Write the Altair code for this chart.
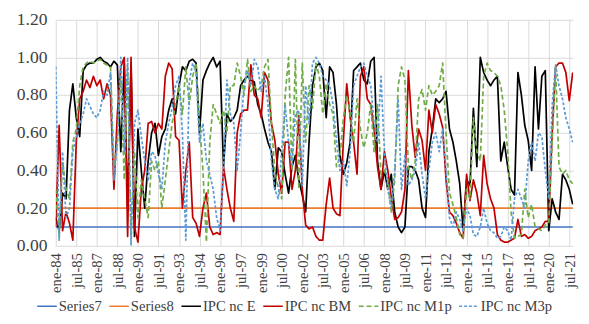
import altair as alt
import pandas as pd

# Quarterly readings (Jan, Apr, Jul, Oct) from 1984 to 2021
ipc_e = [
    0.15, 0.08, 0.28, 0.25,  0.72, 0.86, 0.68, 0.58,  0.93, 0.96, 0.97, 0.97,
    0.99, 1.00, 0.98, 0.97,  0.95, 0.98, 0.96, 0.50,  0.97, 0.20, 0.95, 0.05,
    0.62, 0.40, 0.20, 0.45,  0.60, 0.65, 0.48, 0.58,  0.62, 0.72, 0.78, 0.70,
    0.85, 0.95, 0.93, 0.98,  0.99, 0.97, 0.60, 0.88,  0.93, 0.97, 1.00, 0.95,
    0.98, 0.42, 0.70, 0.66,  0.68, 0.72, 0.85, 0.88,  0.90, 0.88, 0.87, 0.75,
    0.70, 0.62, 0.55, 0.50,  0.30, 0.52, 0.50, 0.38,  0.28, 0.42, 0.48, 0.35,
    0.27, 0.18, 0.55, 0.85,  0.95, 0.97, 0.93, 0.68,  0.95, 0.92, 0.75, 0.48,
    0.38, 0.44, 0.55, 0.93,  0.95, 0.97, 0.88, 0.86,  0.98, 1.00, 0.45, 0.30,
    0.40, 0.30, 0.38, 0.18,  0.10, 0.07, 0.10, 0.42,  0.42, 0.40, 0.35, 0.20,
    0.15, 0.50, 0.62, 0.78,  0.76, 0.78, 0.82, 0.62,  0.55, 0.45, 0.33, 0.08,
    0.35, 0.32, 0.73, 0.42,  1.00, 0.92, 0.88, 0.85,  0.88, 0.90, 0.45, 0.55,
    0.42, 0.30, 0.27, 0.92,  0.80, 0.64, 0.56, 0.40,  0.95, 0.62, 0.90, 0.93,
    0.08, 0.25, 0.18, 0.14,  0.38, 0.35, 0.30, 0.22,
]
ipc_bm = [
    0.10, 0.64, 0.08, 0.18,  0.12, 0.03, 0.55, 0.78,  0.82, 0.88, 0.84, 0.90,
    0.85, 0.88, 0.78, 0.86,  0.80, 0.30, 0.70, 0.95,  1.00, 0.05, 1.00, 0.10,
    0.02, 0.30, 0.40, 0.65,  0.66, 0.60, 0.65, 0.62,  0.90, 0.97, 0.94, 0.58,
    0.56, 0.20, 0.40, 0.55,  0.15, 0.12, 0.05, 0.20,  0.28, 0.10, 0.06, 0.07,
    0.06, 0.42, 0.30, 0.20,  0.13, 0.60, 0.70, 0.72,  0.72, 0.96, 0.80, 0.78,
    0.68, 0.92, 0.88, 0.65,  0.56, 0.38, 0.28, 0.55,  0.55, 0.30, 0.40, 0.69,
    0.30, 0.11, 0.09, 0.10,  0.05, 0.03, 0.03, 0.22,  0.36, 0.20, 0.17, 0.16,
    0.56, 0.86, 0.68, 0.55,  0.38, 0.90, 0.95, 0.78,  0.75, 0.62, 0.42, 0.30,
    0.50, 0.40, 0.26, 0.14,  0.15, 0.18, 0.30, 0.93,  0.64, 0.47, 0.62, 0.56,
    0.40, 0.72, 0.60, 0.75,  0.70, 0.63, 0.35, 0.18,  0.16, 0.12, 0.07, 0.04,
    0.38, 0.24, 0.35, 0.28,  0.16, 0.48, 0.33, 0.25,  0.20, 0.06, 0.03, 0.02,
    0.02, 0.03, 0.04, 0.14,  0.05, 0.06, 0.04, 0.05,  0.08, 0.09, 0.10, 0.13,
    0.13, 0.60, 0.95, 0.97,  0.97, 0.92, 0.77, 0.92,
]
ipc_m1p = [
    0.30, 0.05, 0.45, 0.30,  0.25, 0.55, 0.62, 0.85,  0.95, 0.97, 0.98, 0.97,
    0.98, 0.99, 0.97, 0.96,  0.95, 0.40, 0.55, 0.90,  0.35, 0.95, 0.05, 0.50,
    0.15, 0.35, 0.25, 0.15,  0.45, 0.40, 0.45, 0.20,  0.35, 0.50, 0.65, 0.75,
    0.85, 0.70, 0.95, 0.75,  0.90, 0.97, 0.65, 0.40,  0.02, 0.55, 0.75, 0.70,
    0.65, 0.72, 0.60, 0.85,  0.85, 0.97, 0.90, 0.80,  0.99, 0.82, 0.85, 0.82,
    0.85, 0.95, 0.99, 0.65,  0.40, 0.30, 0.25, 0.80,  1.00, 0.40, 0.99, 0.30,
    0.97, 0.55, 0.85, 0.73,  0.97, 0.90, 0.70, 0.86,  0.75, 0.70, 0.42, 0.47,
    0.68, 0.80, 0.70, 0.55,  0.78, 0.62, 0.52, 0.60,  0.75, 0.50, 0.75, 0.38,
    0.40, 0.35, 0.18, 0.35,  0.85, 0.95, 0.88, 0.42,  0.35, 0.45, 0.78, 0.83,
    0.72, 0.85, 0.80, 0.82,  0.85, 0.97, 0.60, 0.28,  0.22, 0.15, 0.06, 0.04,
    0.30, 0.25, 0.68, 0.50,  0.45, 0.90, 0.97, 0.93,  0.92, 0.90, 0.85, 0.72,
    0.50, 0.18, 0.04, 0.05,  0.06, 0.30, 0.15, 0.22,  0.10, 0.09, 0.08, 0.11,
    0.12, 0.55, 0.95, 0.42,  0.38, 0.40, 0.35, 0.33,
]
ipc_m3p = [
    0.95, 0.03, 0.50, 0.15,  0.20, 0.50, 0.58, 0.65,  0.70, 0.78, 0.74, 0.70,
    0.68, 0.72, 0.82, 0.80,  0.92, 0.35, 0.55, 1.00,  0.50, 1.00, 0.00, 0.65,
    0.72, 0.58, 0.45, 0.35,  0.50, 0.48, 0.38, 0.30,  0.55, 0.65, 0.73, 0.85,
    0.90, 0.60, 0.03, 0.87,  0.97, 0.92, 0.55, 0.65,  0.45, 0.38, 0.30, 0.15,
    0.08, 0.40, 0.88, 0.70,  0.65, 0.40, 0.60, 0.85,  0.93, 0.85, 0.99, 0.95,
    0.82, 0.90, 0.75, 0.45,  0.30, 0.25, 0.50, 0.75,  0.55, 0.42, 0.70, 0.72,
    0.32, 0.85, 0.65, 0.97,  1.00, 0.97, 0.90, 0.88,  0.85, 0.75, 0.56, 0.40,
    0.45, 0.32, 0.50, 0.85,  0.90, 0.95, 0.97, 0.90,  0.85, 0.65, 0.55, 0.90,
    0.50, 0.30, 0.20, 0.40,  0.78, 0.30, 0.48, 0.32,  0.35, 0.40, 0.55, 0.38,
    0.25, 0.40, 0.55, 0.60,  0.50, 0.62, 0.40, 0.15,  0.10, 0.18, 0.14, 0.08,
    0.20, 0.16, 0.06, 0.05,  0.10, 0.20, 0.12, 0.08,  0.07, 0.04, 0.05, 0.10,
    0.08, 0.03, 0.25, 0.30,  0.25, 0.20, 0.45, 0.55,  0.45, 0.60, 0.58, 0.40,
    0.25, 0.75, 0.96, 0.85,  0.78, 0.68, 0.62, 0.55,
]
series7_level = 0.10
series8_level = 0.20

names = ["Series7", "Series8", "IPC nc E", "IPC nc BM", "IPC nc M1p", "IPC nc M3p"]
colors = ["#4472C4", "#ED7D31", "#000000", "#C00000", "#70AD47", "#5B9BD5"]
dashes = [[1, 0], [1, 0], [1, 0], [1, 0], [5, 3], [3, 2]]
widths = [1.75, 1.75, 2.25, 2.25, 2.25, 2.25]

dates = pd.date_range("1984-01-01", "2021-10-01", freq="QS").strftime("%Y-%m-%d").tolist()
n = len(dates)
values = {
    "Series7": [series7_level] * n,
    "Series8": [series8_level] * n,
    "IPC nc E": ipc_e,
    "IPC nc BM": ipc_bm,
    "IPC nc M1p": ipc_m1p,
    "IPC nc M3p": ipc_m3p,
}
rows = []
for name in names:
    for d, v in zip(dates, values[name]):
        rows.append({"date": d, "value": v, "series": name})
df = pd.DataFrame(rows)

# tick labels every 18 months: ene-84, jul-85, ... jul-21
tick_dates = []
y, m = 1984, 1
while (y, m) <= (2021, 7):
    tick_dates.append(alt.DateTime(year=y, month=m, date=1, utc=True))
    m += 18
    while m > 12:
        m -= 12
        y += 1

x_enc = alt.X(
    "date:T",
    title=None,
    scale=alt.Scale(
        type="utc",
        domain=[alt.DateTime(year=1984, month=1, date=1, utc=True),
                alt.DateTime(year=2021, month=10, date=14, utc=True)],
    ),
    axis=alt.Axis(
        values=tick_dates,
        labelExpr="(utcFormat(datum.value, '%m') == '01' ? 'ene' : 'jul') + '-' + utcFormat(datum.value, '%y')",
        labelAngle=270,
        labelPadding=7,
        labelFontSize=15,
        grid=True,
        domain=False,
        ticks=False,
        labelOverlap=False,
        labelBound=False,
    ),
)
y_enc = alt.Y(
    "value:Q",
    title=None,
    scale=alt.Scale(domain=[0, 1.2], nice=False, zero=True),
    axis=alt.Axis(
        values=[0, 0.2, 0.4, 0.6, 0.8, 1.0, 1.2],
        format=".2f",
        labelFontSize=18,
        labelPadding=9,
        grid=True,
        domain=False,
        ticks=False,
    ),
)

legend = alt.Legend(
    title=None,
    orient="none",
    legendX=-20,
    legendY=283,
    direction="horizontal",
    columns=6,
    symbolType="stroke",
    symbolSize=400,
    symbolStrokeWidth=2,
    labelFont="Liberation Serif",
    labelFontSize=15,
    labelColor="#404040",
    labelOffset=1,
    columnPadding=3,
    padding=0,
)

layers = []
for name in names:
    layers.append(
        alt.Chart(df)
        .transform_filter(alt.datum.series == name)
        .mark_line(strokeCap="butt", strokeJoin="round", clip=True)
        .encode(
            x=x_enc,
            y=y_enc,
            color=alt.Color("series:N", title=None,
                            scale=alt.Scale(domain=names, range=colors),
                            legend=legend),
            strokeDash=alt.StrokeDash("series:N", title=None,
                                      scale=alt.Scale(domain=names, range=dashes),
                                      legend=legend),
            strokeWidth=alt.StrokeWidth("series:N", legend=None,
                                        scale=alt.Scale(domain=names, range=widths)),
        )
    )

chart = (
    alt.layer(*layers)
    .properties(
        width=531,
        height=232,
        autosize=alt.AutoSizeParams(type="none"),
        padding={"left": 49, "top": 8, "right": 8, "bottom": 70},
    )
    .configure_view(stroke=None)
    .configure_axis(
        gridColor="#D9D9D9",
        gridWidth=1,
        labelFont="Liberation Serif",
        labelColor="#404040",
    )
)

chart.save("out.html", embed_options={"renderer": "svg", "actions": False})
